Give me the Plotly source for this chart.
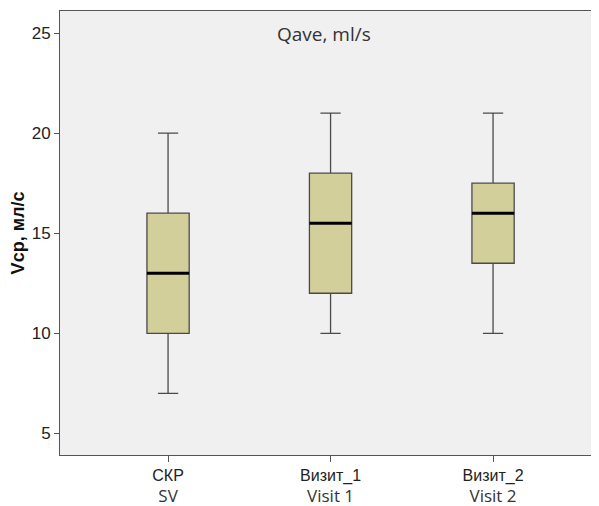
import plotly.graph_objects as go

line1 = ["СКР", "Визит_1", "Визит_2"]
line2 = ["SV", "Visit 1", "Visit 2"]
lower = [7, 10, 10]
q1 = [10, 12, 13.5]
median = [13, 15.5, 16]
q3 = [16, 18, 17.5]
upper = [20, 21, 21]
y_ticks = [5, 10, 15, 20, 25]

xpos = [0, 1, 2]
ticktext = [f"{a}<br><span style='font-family:Open Sans;font-size:17px;color:#333'>{b}</span>" for a, b in zip(line1, line2)]

fig = go.Figure()
fig.add_trace(go.Box(
    x=xpos, q1=q1, median=median, q3=q3, lowerfence=lower, upperfence=upper,
    fillcolor="#d3cf9b", line=dict(color="#4a4a4a", width=1.3),
    width=0.26, whiskerwidth=0.48, boxpoints=False, showlegend=False,
    hoverinfo="skip"
))
bw = 0.13
for i, m in zip(xpos, median):
    fig.add_shape(type="line", x0=i - bw, x1=i + bw, y0=m, y1=m, xref="x", yref="y",
                  line=dict(color="black", width=3))

fig.update_layout(
    width=591, height=498,
    margin=dict(l=52, r=0, t=3, b=51),
    paper_bgcolor="white", plot_bgcolor="#f0f0f0",
    font=dict(family="Liberation Sans, Arial", color="#222222"),
    annotations=[dict(text="Qave, ml/s", x=0.49, y=0.948, xref="paper", yref="paper",
                      showarrow=False, xanchor="center", yanchor="middle",
                      font=dict(family="Open Sans", size=19, color="#333333"))],
)
fig.update_xaxes(
    range=[-0.665, 2.652], tickvals=xpos, ticktext=ticktext,
    showline=True, linecolor="#555555", linewidth=1, mirror=True,
    ticks="outside", ticklen=6, tickcolor="#555555",
    showgrid=False, zeroline=False, automargin=False,
    tickfont=dict(family="Liberation Sans, Arial", size=16, color="#222222"),
)
fig.update_yaxes(
    range=[3.92, 26.1], tickvals=y_ticks,
    showline=True, linecolor="#555555", linewidth=1, mirror=False,
    ticks="outside", ticklen=5, tickcolor="#555555",
    showgrid=False, zeroline=False, automargin=False,
    tickfont=dict(family="Liberation Sans, Arial", size=17, color="#222222"),
    title=dict(text="<b>Vср, мл/с</b>", font=dict(family="Liberation Sans, Arial", size=18, color="#111111"), standoff=4),
)
fig.write_html("out.html")
